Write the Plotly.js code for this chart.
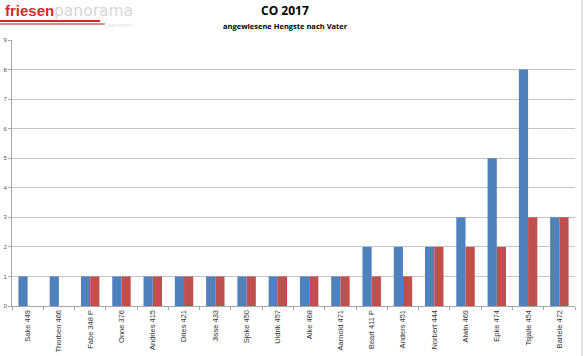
<!DOCTYPE html>
<html>
<head>
<meta charset="utf-8">
<script src="https://cdn.plot.ly/plotly-3.0.1.min.js"></script>
<style>html,body{margin:0;padding:0;background:#fff;}#chart{width:584px;height:356px;}</style>
</head>
<body>
<div id="chart"></div>
<script>
const categories = ["Sake 449","Thorben 466","Fabe 348 P","Onne 376","Andries 415","Dries 421","Jisse 433","Sjoke 450","Uldrik 457","Alke 468","Aarnold 471","Beart 411 P","Anders 451","Norbert 444","Alwin 469","Epke 474","Tsjalle 454","Bartele 472"];
const blueValues = [1,1,1,1,1,1,1,1,1,1,1,2,2,2,3,5,8,3];
const redValues  = [0,0,1,1,1,1,1,1,1,1,1,1,1,2,2,2,3,3];
const yTicks = [0,1,2,3,4,5,6,7,8,9];

const W = 584, H = 356, L = 12, R = 9, T = 40, B = 50;
const pw = W - L - R, ph = H - T - B;
const px = x => (x - L) / pw;
const py = y => (H - B - y) / ph;

const traces = [
  {type:'bar', x:categories, y:blueValues, marker:{color:'#4F81BD'}, hoverinfo:'x+y', name:'A'},
  {type:'bar', x:categories, y:redValues, marker:{color:'#C0504D'}, hoverinfo:'x+y', name:'B'}
];

const layout = {
  width: W, height: H,
  margin: {l:L, r:R, t:T, b:B, pad:0},
  paper_bgcolor:'#fff', plot_bgcolor:'#fff',
  showlegend:false,
  barmode:'group', bargap:0.41, bargroupgap:0,
  font:{family:'Liberation Sans, Arial, sans-serif', size:7, color:'#444'},
  xaxis:{
    type:'category', tickangle:-90, showgrid:false,
    showline:true, linecolor:'#a6a6a6', linewidth:1,
    ticks:'outside', ticklen:3, tickcolor:'#a6a6a6', tickson:'boundaries',
    tickfont:{size:7.5, color:'#333'}, automargin:false
  },
  yaxis:{
    range:[0,9], tickvals:yTicks, showgrid:true, gridcolor:'#c4c4c4', gridwidth:1,
    showline:true, linecolor:'#a6a6a6', linewidth:1, zeroline:false,
    ticks:'outside', ticklen:3, tickcolor:'#a6a6a6',
    tickfont:{size:6, color:'#555'}, automargin:false
  },
  annotations:[
    {xref:'paper', yref:'paper', x:px(285), y:py(11), text:'<b>CO 2017</b>', showarrow:false,
     font:{family:'Open Sans, sans-serif', size:12, color:'#000'}, xanchor:'center', yanchor:'middle'},
    {xref:'paper', yref:'paper', x:px(285), y:py(25.5), text:'<b>angewiesene Hengste nach Vater</b>', showarrow:false,
     font:{family:'Open Sans, sans-serif', size:7.5, color:'#000'}, xanchor:'center', yanchor:'middle'},
    {xref:'paper', yref:'paper', x:px(3), y:py(10), text:'<b>friesen</b>', showarrow:false,
     font:{family:'Liberation Sans, Arial, sans-serif', size:15, color:'#d42a2a'}, xanchor:'left', yanchor:'middle'},
    {xref:'paper', yref:'paper', x:px(52), y:py(11), text:'panorama', showarrow:false,
     font:{family:'DejaVu Sans, sans-serif', size:15.5, color:'#d6d6d6'}, xanchor:'left', yanchor:'middle'},
    {xref:'paper', yref:'paper', x:px(118), y:py(25), text:'Österreich', showarrow:false,
     font:{family:'Liberation Sans, Arial, sans-serif', size:6, color:'#e0e0e0'}, xanchor:'center', yanchor:'middle'}
  ],
  shapes:[
    {type:'line', xref:'paper', yref:'paper', x0:px(0), x1:px(100), y0:py(21), y1:py(21), line:{color:'#d42a2a', width:2}},
    {type:'line', xref:'paper', yref:'paper', x0:px(0), x1:px(105), y0:py(24), y1:py(24), line:{color:'#e06060', width:1.5}},
    {type:'line', xref:'paper', yref:'paper', x0:px(582), x1:px(582), y0:py(0), y1:py(356), line:{color:'#c8c8c8', width:1}}
  ]
};

Plotly.newPlot('chart', traces, layout, {displayModeBar:false, staticPlot:true});
</script>
</body>
</html>
